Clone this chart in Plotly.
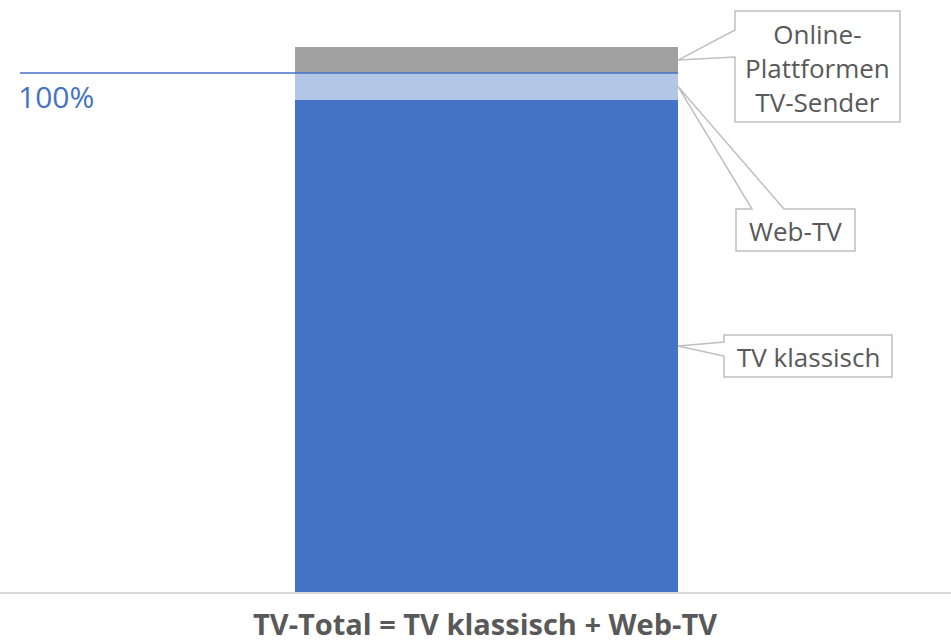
import plotly.graph_objects as go

# ---- data ----
category = ["TV-Total"]
series_names = ["TV klassisch", "Web-TV", "Online-Plattformen TV-Sender"]
series_values = [94.8, 5.2, 5.0]
series_colors = ["#4472C4", "#B4C6E7", "#A0A0A0"]
callout_labels = ["TV klassisch", "Web-TV", "Online-<br>Plattformen<br>TV-Sender"]
reference_value = 100
reference_label = "100%"
x_title = "TV-Total = TV klassisch + Web-TV"

W, H = 951, 644
M_B = 52
plot_h = H - M_B
YMAX = 114.07
BAR_W = 0.8
X0, X1 = -1.0162, 0.9702

fig = go.Figure()
for name, val, col in zip(series_names, series_values, series_colors):
    fig.add_trace(go.Bar(x=category, y=[val], name=name, marker=dict(color=col, line=dict(width=0)),
                         width=BAR_W, hoverinfo="name+y"))

def px_x(p):
    return p / W

def px_y(p):
    return (plot_h - p) / plot_h

def data_y(v):
    return v / YMAX

bar_right = (BAR_W / 2 - X0) / (X1 - X0)

# cumulative midpoints -> callout tips
cum = 0
mids = []
for v in series_values:
    mids.append(data_y(cum + v / 2))
    cum += v

shapes = []
# reference line
shapes.append(dict(type="line", xref="paper", yref="y", x0=px_x(20), x1=bar_right,
                   y0=reference_value, y1=reference_value, line=dict(color="#4472C4", width=1.5)))

def path(points):
    return "M " + " L ".join(f"{x:.5f},{y:.5f}" for x, y in points) + " Z"

line_style = dict(color="#BFBFBF", width=1.5)
# TV klassisch callout (wedge on left edge)
L, T, R, B = 724, 335, 892, 377
pts = [(px_x(L), px_y(T)), (px_x(R), px_y(T)), (px_x(R), px_y(B)), (px_x(L), px_y(B)),
       (px_x(L), px_y(356)), (bar_right, mids[0]), (px_x(L), px_y(342))]
shapes.append(dict(type="path", xref="paper", yref="paper", path=path(pts), fillcolor="white", line=line_style))
# Web-TV callout (wedge on top edge)
L, T, R, B = 736, 209, 855, 251
pts = [(px_x(L), px_y(T)), (px_x(752), px_y(T)), (bar_right, mids[1]), (px_x(784), px_y(T)),
       (px_x(R), px_y(T)), (px_x(R), px_y(B)), (px_x(L), px_y(B))]
shapes.append(dict(type="path", xref="paper", yref="paper", path=path(pts), fillcolor="white", line=line_style))
# Online callout (wedge on left edge)
L, T, R, B = 735, 11, 900, 122
pts = [(px_x(L), px_y(T)), (px_x(R), px_y(T)), (px_x(R), px_y(B)), (px_x(L), px_y(B)),
       (px_x(L), px_y(57)), (bar_right, mids[2]), (px_x(L), px_y(30))]
shapes.append(dict(type="path", xref="paper", yref="paper", path=path(pts), fillcolor="white", line=line_style))

font_box = dict(family="Open Sans, Noto Sans, sans-serif", size=26, color="#595959")
annotations = [
    dict(text=callout_labels[0], x=px_x(808), y=px_y(357), xref="paper", yref="paper",
         showarrow=False, font=font_box, xanchor="center", yanchor="middle"),
    dict(text=callout_labels[1], x=px_x(795.5), y=px_y(231), xref="paper", yref="paper",
         showarrow=False, font=font_box, xanchor="center", yanchor="middle"),
    dict(text=callout_labels[2], x=px_x(817.5), y=px_y(68), xref="paper", yref="paper",
         showarrow=False, font=font_box, xanchor="center", yanchor="middle", align="center"),
    dict(text=reference_label, x=px_x(16), y=px_y(97), xref="paper", yref="paper",
         showarrow=False, xanchor="left", yanchor="middle",
         font=dict(family="Open Sans, Noto Sans, sans-serif", size=30, color="#4472C4")),
    dict(text="<b>" + x_title + "</b>", x=px_x(485), y=px_y(624), xref="paper", yref="paper",
         showarrow=False, xanchor="center", yanchor="middle",
         font=dict(family="Open Sans, Noto Sans, sans-serif", size=29, color="#595959")),
]

fig.update_layout(
    width=W, height=H, barmode="stack", showlegend=False,
    margin=dict(l=0, r=0, t=0, b=M_B),
    paper_bgcolor="white", plot_bgcolor="white",
    xaxis=dict(range=[X0, X1], showticklabels=False, showgrid=False, zeroline=False,
               showline=True, linecolor="#D9D9D9", linewidth=1.5, fixedrange=True),
    yaxis=dict(range=[0, YMAX], visible=False, fixedrange=True),
    shapes=shapes, annotations=annotations,
)

fig.write_html("out.html", config={"displayModeBar": False},
               post_script="document.body.style.margin='0';document.body.style.overflow='hidden';")
